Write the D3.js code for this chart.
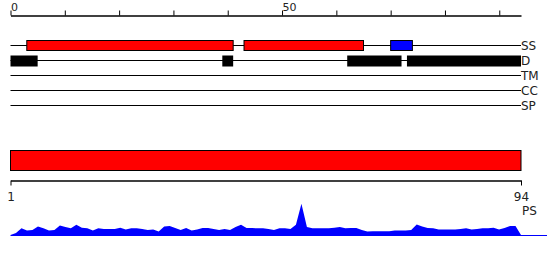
<!DOCTYPE html>
<html>
<head>
<meta charset="utf-8">
<script src="https://cdn.jsdelivr.net/npm/d3@7"></script>
<style>
  body { margin: 0; background: #fff; }
  text { font-family: "DejaVu Sans", sans-serif; fill: #222; }
</style>
</head>
<body>
<svg id="chart" width="550" height="260"></svg>
<script>
// track names, top to bottom
const tracks = ["SS", "D", "TM", "CC", "SP"];

// secondary structure segments (residue start/end + type)
const ssStart = [3, 43, 70];
const ssEnd = [41, 65, 74];
const ssType = ["helix", "helix", "strand"];

// disorder segments
const disStart = [0, 39, 62, 73];
const disEnd = [5, 41, 72, 94];

const seqLength = 94;
const topTickLabels = [0, 50];

// per-residue score for the PS profile (residues 1..94)
const psScore = [
  0, 0.06, 0.19, 0.13, 0.14, 0.24, 0.19, 0.13, 0.14, 0.27,
  0.23, 0.19, 0.29, 0.21, 0.19, 0.13, 0.19, 0.17, 0.17, 0.17,
  0.21, 0.16, 0.19, 0.19, 0.17, 0.14, 0.16, 0.1, 0.24, 0.26,
  0.2, 0.14, 0.2, 0.13, 0.16, 0.2, 0.2, 0.17, 0.14, 0.17,
  0.14, 0.23, 0.29, 0.2, 0.2, 0.19, 0.19, 0.17, 0.14, 0.19,
  0.19, 0.17, 0.29, 0.89, 0.23, 0.19, 0.19, 0.19, 0.19, 0.21,
  0.23, 0.19, 0.2, 0.2, 0.14, 0.1, 0.11, 0.11, 0.11, 0.11,
  0.13, 0.13, 0.13, 0.14, 0.3, 0.24, 0.2, 0.19, 0.16, 0.16,
  0.16, 0.16, 0.17, 0.19, 0.16, 0.17, 0.19, 0.19, 0.21, 0.16,
  0.2, 0.26, 0.26, 0
];

const svg = d3.select("#chart");

// x scale for the feature tracks (0-based ruler)
const x = d3.scaleLinear().domain([0, seqLength]).range([10.5, 521]);
const ssColor = d3.scaleOrdinal().domain(["helix", "strand"]).range(["#ff0000", "#0000ff"]);
const trackY = d3.scalePoint().domain(tracks).range([45, 105]);

// top ruler
const topAxis = svg.append("g")
  .attr("transform", "translate(0,15.5)")
  .call(d3.axisTop(x).tickValues(d3.range(0, seqLength + 1, 10)).tickSize(5).tickSizeOuter(0).tickFormat(""));
topAxis.select(".domain").attr("stroke", "#000").attr("stroke-width", 1.3);
topAxis.selectAll(".tick line").attr("stroke", "#000");
svg.append("g").selectAll("text")
  .data(topTickLabels)
  .join("text")
  .attr("x", d => x(d) + 0.5)
  .attr("y", 11)
  .attr("font-size", 11)
  .text(d => d);

// track lines + labels
svg.append("g").selectAll("line")
  .data(tracks)
  .join("line")
  .attr("x1", x(0)).attr("x2", x(seqLength))
  .attr("y1", d => trackY(d) + 0.5).attr("y2", d => trackY(d) + 0.5)
  .attr("stroke", "#000");
svg.append("g").selectAll("text")
  .data(tracks)
  .join("text")
  .attr("x", x(seqLength))
  .attr("y", d => trackY(d) + 0.5)
  .attr("dy", "0.35em")
  .attr("font-size", 12)
  .text(d => d);

// secondary structure boxes
svg.append("g").selectAll("rect")
  .data(d3.range(ssStart.length))
  .join("rect")
  .attr("x", i => x(ssStart[i]))
  .attr("width", i => x(ssEnd[i]) - x(ssStart[i]))
  .attr("y", trackY("SS") - 4.5)
  .attr("height", 10)
  .attr("fill", i => ssColor(ssType[i]))
  .attr("stroke", "#000");

// disorder boxes
svg.append("g").selectAll("rect")
  .data(d3.range(disStart.length))
  .join("rect")
  .attr("x", i => x(disStart[i]))
  .attr("width", i => x(disEnd[i]) - x(disStart[i]))
  .attr("y", trackY("D") - 4.5)
  .attr("height", 11)
  .attr("fill", "#000");

// bottom section: full sequence bar, ruler, profile
const xs = d3.scaleLinear().domain([1, seqLength]).range([10.5, 521]);
const y = d3.scaleLinear().domain([0, 1]).range([235, 200]);

svg.append("rect")
  .attr("x", xs(1))
  .attr("y", 150.5)
  .attr("width", xs(seqLength) - xs(1))
  .attr("height", 20)
  .attr("fill", "#ff0000")
  .attr("stroke", "#000");

const bottomAxis = svg.append("g")
  .attr("transform", "translate(0,180.5)")
  .call(d3.axisBottom(xs).tickValues([1, seqLength]).tickSize(5).tickSizeOuter(0).tickPadding(7));
bottomAxis.select(".domain").attr("stroke", "#000").attr("stroke-width", 1.3);
bottomAxis.selectAll(".tick line").attr("stroke", "#000");
bottomAxis.selectAll(".tick text")
  .attr("font-size", 12)
  .attr("font-family", "DejaVu Sans, sans-serif")
  .attr("fill", "#222");

svg.append("text")
  .attr("x", 522)
  .attr("y", 215)
  .attr("font-size", 12)
  .text("PS");

// baseline
svg.append("line")
  .attr("x1", xs(1)).attr("x2", 547)
  .attr("y1", y(0) + 0.5).attr("y2", y(0) + 0.5)
  .attr("stroke", "#0000ff");

const area = d3.area()
  .x((d, i) => xs(i + 1))
  .y0(y(0))
  .y1(d => y(d));

svg.append("path")
  .datum(psScore)
  .attr("fill", "#0000ff")
  .attr("d", area);
</script>
</body>
</html>
